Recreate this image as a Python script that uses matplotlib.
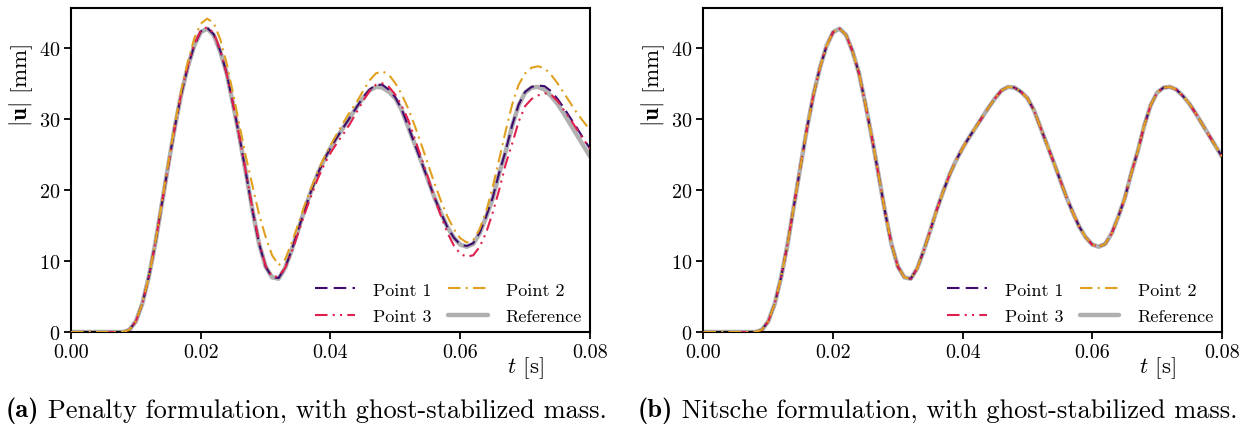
import numpy as np
import matplotlib
matplotlib.use("Agg")
import matplotlib.pyplot as plt

plt.rcParams['font.family'] = ['cmr10', 'DejaVu Serif']
plt.rcParams['mathtext.fontset'] = 'cm'
plt.rcParams['axes.formatter.use_mathtext'] = True
plt.rcParams['axes.unicode_minus'] = False

# time samples [s]
t = np.linspace(0.0, 0.08, 81)

# Reference displacement magnitude [mm]
reference = [0, 0, 0, 0, 0, 0, 0, 0, 0,
             0.3, 1.5, 4.0, 7.8, 12.5, 18.0, 23.5, 28.8, 33.5, 37.3, 40.3,
             42.2, 42.7, 41.8, 39.5, 36.4, 32.0, 27.3, 22.2, 17.0, 12.4,
             9.2, 7.7, 7.5, 9.0, 11.5, 14.3, 17.2, 19.8, 22.2, 24.2,
             25.9, 27.4, 28.8, 30.2, 31.6, 32.9, 34.0, 34.5, 34.4, 33.8,
             32.9, 31.2, 28.8, 26.4, 24.0, 21.5, 19.0, 16.8, 14.8, 13.3,
             12.3, 12.0, 12.4, 13.9, 16.2, 18.8, 22.3, 25.4, 29.0, 31.9,
             33.7, 34.4, 34.5, 34.1, 33.2, 32.1, 30.7, 29.2, 27.7, 26.2,
             24.7]

# Penalty formulation
pen_point1 = [0, 0, 0, 0, 0, 0, 0, 0, 0,
              0.3, 1.5, 4.0, 7.8, 12.5, 18.0, 23.5, 28.8, 33.5, 37.3, 40.3,
              42.3, 42.8, 41.9, 39.6, 36.4, 32.0, 27.3, 22.2, 17.0, 12.4,
              9.2, 7.7, 7.6, 9.0, 11.5, 14.3, 17.2, 19.8, 22.2, 24.2,
              25.9, 27.4, 28.8, 30.2, 31.6, 33.0, 34.1, 34.8, 34.8, 34.1,
              33.0, 31.3, 28.9, 26.4, 24.0, 21.5, 19.0, 16.8, 14.8, 13.3,
              12.3, 12.1, 12.5, 14.0, 16.3, 18.9, 22.4, 25.5, 29.1, 32.0,
              33.8, 34.5, 34.7, 34.6, 33.9, 32.8, 31.5, 30.1, 28.7, 27.2,
              25.8]
pen_point2 = [0, 0, 0, 0, 0, 0, 0, 0, 0,
              0.3, 1.5, 4.0, 7.8, 12.6, 18.2, 23.8, 29.2, 34.0, 38.0, 41.3,
              43.4, 44.1, 43.5, 41.2, 37.8, 33.5, 29.0, 24.5, 20.5, 16.5,
              13.4, 10.8, 9.4, 10.2, 12.5, 15.1, 17.8, 20.2, 22.5, 24.5,
              26.3, 27.9, 29.5, 31.0, 32.3, 33.9, 35.4, 36.4, 36.7, 36.2,
              35.0, 33.4, 31.4, 29.0, 26.4, 23.7, 21.0, 18.5, 16.3, 14.5,
              13.2, 12.6, 12.9, 14.5, 17.0, 20.4, 24.3, 28.3, 32.0, 34.8,
              36.4, 37.2, 37.4, 37.1, 36.2, 35.0, 33.6, 32.2, 30.8, 29.6,
              28.4]
pen_point3 = [0, 0, 0, 0, 0, 0, 0, 0, 0,
              0.3, 1.5, 4.0, 7.8, 12.5, 18.0, 23.5, 28.8, 33.6, 37.5, 40.5,
              42.4, 42.9, 42.1, 39.7, 36.3, 32.0, 27.3, 22.3, 17.2, 12.6,
              9.3, 7.8, 7.8, 9.0, 11.2, 13.9, 16.6, 19.1, 21.5, 23.5,
              25.2, 26.6, 27.9, 29.3, 30.9, 32.5, 33.9, 34.8, 35.0, 34.5,
              33.4, 31.8, 29.8, 27.2, 24.5, 21.8, 19.0, 16.4, 14.0, 12.2,
              11.0, 10.6, 10.8, 12.0, 14.0, 16.8, 20.0, 23.6, 26.5, 29.6,
              31.8, 32.8, 33.3, 33.6, 33.4, 32.5, 31.2, 29.9, 28.5, 27.1,
              25.8]

# Nitsche formulation: all points coincide with the reference
nit_point1 = reference
nit_point2 = reference
nit_point3 = reference

labels = ["Point 1", "Point 2", "Point 3", "Reference"]
caption_tags = ["(a)", "(b)"]
caption_texts = [" Penalty formulation, with ghost-stabilized mass.",
                 " Nitsche formulation, with ghost-stabilized mass."]
xticks = [0.00, 0.02, 0.04, 0.06, 0.08]
yticks = [0, 10, 20, 30, 40]

c1 = '#3d0c6e'
c2 = '#e0a020'
c3 = '#e0204c'
cref = '#b0b0b0'

fig = plt.figure(figsize=(12.54, 4.27), dpi=100)
ax_l = fig.add_axes([0.0566, 0.2201, 0.4139, 0.7588])
ax_r = fig.add_axes([0.5610, 0.2201, 0.4134, 0.7588])

panels = [(ax_l, pen_point1, pen_point2, pen_point3),
          (ax_r, nit_point1, nit_point2, nit_point3)]

for i, (ax, p1, p2, p3) in enumerate(panels):
    hr, = ax.plot(t, reference, color=cref, lw=3.2, solid_capstyle='round',
                  solid_joinstyle='round', zorder=1)
    h1, = ax.plot(t, p1, color=c1, lw=1.5, ls=(0, (6, 3)), zorder=2)
    h3, = ax.plot(t, p3, color=c3, lw=1.5, ls=(0, (6, 2.5, 1, 2.5, 1, 2.5)), zorder=3)
    h2, = ax.plot(t, p2, color=c2, lw=1.5, ls=(0, (6, 2.5, 1, 2.5)), zorder=4)
    ax.set_xlim(0, 0.08)
    ax.set_ylim(0, 45.6)
    ax.set_xticks(xticks)
    ax.set_xticklabels([f"{v:.2f}" for v in xticks])
    ax.set_yticks(yticks)
    ax.tick_params(direction='out', length=5, width=1.3, labelsize=14.5, pad=3)
    for s in ax.spines.values():
        s.set_linewidth(1.5)
    ax.set_ylabel(r"$|\mathbf{u}|$ [mm]", fontsize=16.5)
    ax.yaxis.set_label_coords(-0.070, 0.765)
    ax.set_xlabel(r"$t$ [s]", fontsize=16.5)
    ax.xaxis.set_label_coords(0.876, -0.07)
    ax.legend([h1, h3, h2, hr], [labels[0], labels[2], labels[1], labels[3]],
              ncol=2, loc='lower right', frameon=False, fontsize=13,
              handlelength=2.2, columnspacing=0.9, handletextpad=1.0,
              borderaxespad=0.05, labelspacing=0.58)

# captions: bold tag followed by regular text, centred as one line
fig.canvas.draw()
renderer = fig.canvas.get_renderer()
for cx, tag, txt in zip([0.2444, 0.7476], caption_tags, caption_texts):
    a = fig.text(0, 0.038, tag, family='cmb10', fontsize=19, ha='left', va='center')
    b = fig.text(0, 0.038, txt, family='cmr10', fontsize=19, ha='left', va='center')
    wa = a.get_window_extent(renderer).width / fig.bbox.width
    wb = b.get_window_extent(renderer).width / fig.bbox.width
    x0 = cx - (wa + wb) / 2
    a.set_x(x0)
    b.set_x(x0 + wa)

fig.savefig("out.png", dpi=100)
